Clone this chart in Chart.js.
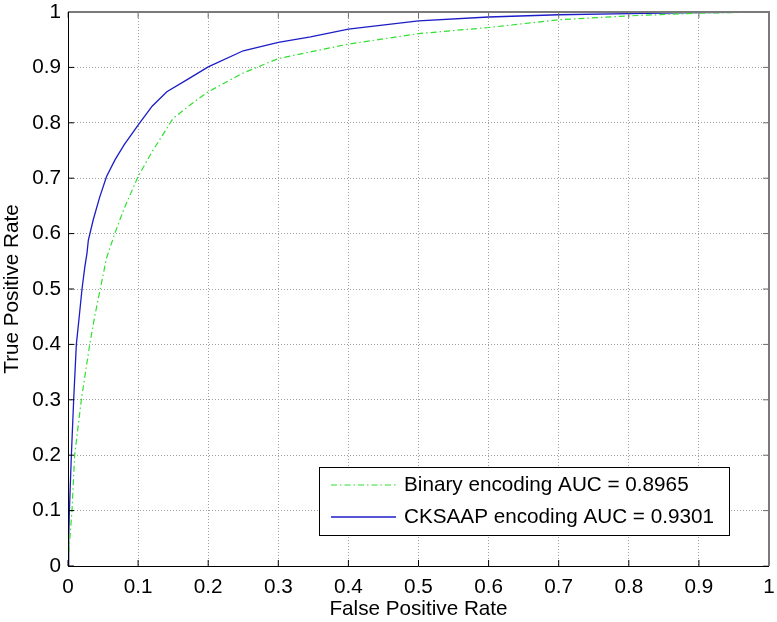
<!DOCTYPE html>
<html>
<head>
<meta charset="utf-8">
<script src="https://cdn.jsdelivr.net/npm/chart.js@4.4.1/dist/chart.umd.min.js"></script>
<style>
  html, body { margin: 0; padding: 0; background: #fff; }
  canvas { display: block; }
</style>
</head>
<body>
<canvas id="rocChart" width="777" height="622"></canvas>
<script>
// ROC points
const binaryFpr = [0, 0.002, 0.0057, 0.0095, 0.019, 0.031, 0.038, 0.046, 0.055, 0.067, 0.08, 0.1, 0.12, 0.15, 0.175, 0.2, 0.25, 0.3, 0.346, 0.4, 0.5, 0.6, 0.7, 0.8, 0.9, 1];
const binaryTpr = [0, 0.04, 0.1, 0.2, 0.3, 0.4, 0.45, 0.5, 0.556, 0.601, 0.645, 0.703, 0.748, 0.808, 0.833, 0.856, 0.89, 0.916, 0.928, 0.942, 0.961, 0.972, 0.986, 0.993, 0.998, 1];

const cksaapFpr = [0, 0.001, 0.002, 0.0048, 0.0081, 0.0119, 0.016, 0.02, 0.024, 0.027, 0.029, 0.036, 0.045, 0.055, 0.067, 0.08, 0.1, 0.12, 0.141, 0.17, 0.2, 0.25, 0.3, 0.346, 0.4, 0.5, 0.6, 0.7, 0.8, 0.9, 1];
const cksaapTpr = [0, 0.05, 0.1, 0.2, 0.3, 0.4, 0.45, 0.5, 0.54, 0.564, 0.588, 0.625, 0.665, 0.703, 0.733, 0.76, 0.796, 0.83, 0.856, 0.878, 0.901, 0.93, 0.945, 0.955, 0.969, 0.984, 0.991, 0.995, 0.997, 0.999, 1];

const seriesLabels = ['Binary encoding AUC = 0.8965', 'CKSAAP encoding AUC = 0.9301'];
const tickValues = [0, 0.1, 0.2, 0.3, 0.4, 0.5, 0.6, 0.7, 0.8, 0.9, 1];

const FONT = 'Liberation Sans, Arial, sans-serif';
const FSIZE = 20.7;

function toPoints(xs, ys) {
  return xs.map((x, i) => ({ x: x, y: ys[i] }));
}

// matlab style box: inward ticks on all four sides + legend inside the axes
const matlabBox = {
  id: 'matlabBox',
  afterDatasetsDraw(chart) {
    const { ctx, chartArea: a, scales } = chart;
    const tl = 6;
    ctx.save();
    // ticks
    tickValues.forEach(v => {
      const px = scales.x.getPixelForValue(v);
      const py = scales.y.getPixelForValue(v);
      ctx.lineWidth = 1;
      ctx.strokeStyle = '#000';
      ctx.beginPath();
      ctx.moveTo(px, a.bottom); ctx.lineTo(px, a.bottom - tl);
      ctx.moveTo(a.left, py); ctx.lineTo(a.left + tl, py);
      ctx.stroke();
      ctx.strokeStyle = '#6e6e6e';
      ctx.beginPath();
      ctx.moveTo(px, a.top); ctx.lineTo(px, a.top + tl);
      ctx.moveTo(a.right, py); ctx.lineTo(a.right - tl, py);
      ctx.stroke();
    });
    // box
    ctx.strokeStyle = '#7a7a7a';
    ctx.lineWidth = 2;
    ctx.beginPath();
    ctx.moveTo(a.left, a.top); ctx.lineTo(a.right, a.top); ctx.lineTo(a.right, a.bottom);
    ctx.stroke();
    ctx.strokeStyle = '#000';
    ctx.lineWidth = 1;
    ctx.beginPath();
    ctx.moveTo(a.left + 0.5, a.top); ctx.lineTo(a.left + 0.5, a.bottom + 0.5); ctx.lineTo(a.right, a.bottom + 0.5);
    ctx.stroke();

    // legend box
    const bx = a.right - 450, by = a.bottom - 99, bw = 410, bh = 68;
    ctx.fillStyle = '#fff';
    ctx.fillRect(bx, by, bw, bh);
    ctx.strokeStyle = '#000';
    ctx.lineWidth = 1;
    ctx.strokeRect(bx + 0.5, by + 0.5, bw, bh);
    ctx.font = FSIZE + 'px ' + FONT;
    ctx.textBaseline = 'middle';
    ctx.textAlign = 'left';
    chart.data.datasets.forEach((ds, i) => {
      const ly = by + 18 + i * 32;
      ctx.strokeStyle = ds.borderColor;
      ctx.lineWidth = ds.borderWidth;
      ctx.setLineDash(ds.borderDash || []);
      ctx.beginPath();
      ctx.moveTo(bx + 12, ly); ctx.lineTo(bx + 77, ly);
      ctx.stroke();
      ctx.setLineDash([]);
      ctx.fillStyle = '#000';
      ctx.fillText(ds.label, bx + 85, ly);
    });
    ctx.restore();
  }
};

const tickFmt = v => String(+v.toFixed(1));

new Chart(document.getElementById('rocChart'), {
  type: 'line',
  data: {
    datasets: [
      {
        label: seriesLabels[0],
        data: toPoints(binaryFpr, binaryTpr),
        borderColor: '#2fe02f',
        borderWidth: 1.2,
        borderDash: [6, 3, 1.5, 3],
        pointRadius: 0,
        tension: 0
      },
      {
        label: seriesLabels[1],
        data: toPoints(cksaapFpr, cksaapTpr),
        borderColor: '#1c1cc8',
        borderWidth: 1.3,
        pointRadius: 0,
        tension: 0
      }
    ]
  },
  options: {
    responsive: false,
    animation: false,
    layout: { padding: { top: 12, right: 8, left: 0, bottom: 0 } },
    plugins: {
      legend: { display: false },
      tooltip: { enabled: false }
    },
    scales: {
      x: {
        type: 'linear',
        min: 0,
        max: 1,
        afterFit: s => { s.height = 56; s.paddingLeft = 0; s.paddingRight = 0; },
        afterBuildTicks: s => { s.ticks = tickValues.map(v => ({ value: v })); },
        ticks: { callback: tickFmt, color: '#000', font: { family: FONT, size: FSIZE }, padding: 9, maxRotation: 0 },
        grid: { color: '#a0a0a0', drawTicks: false },
        border: { display: false, dash: [1, 2] },
        title: { display: true, text: 'False Positive Rate', color: '#000', font: { family: FONT, size: FSIZE }, padding: 0 }
      },
      y: {
        min: 0,
        max: 1,
        afterFit: s => { s.width = 68; s.paddingTop = 0; s.paddingBottom = 0; },
        afterBuildTicks: s => { s.ticks = tickValues.map(v => ({ value: v })); },
        ticks: { callback: tickFmt, color: '#000', font: { family: FONT, size: FSIZE }, padding: 7 },
        grid: { color: '#a0a0a0', drawTicks: false },
        border: { display: false, dash: [1, 2] },
        title: { display: true, text: 'True Positive Rate', color: '#000', font: { family: FONT, size: FSIZE }, padding: 0 }
      }
    }
  },
  plugins: [matlabBox]
});
</script>
</body>
</html>
